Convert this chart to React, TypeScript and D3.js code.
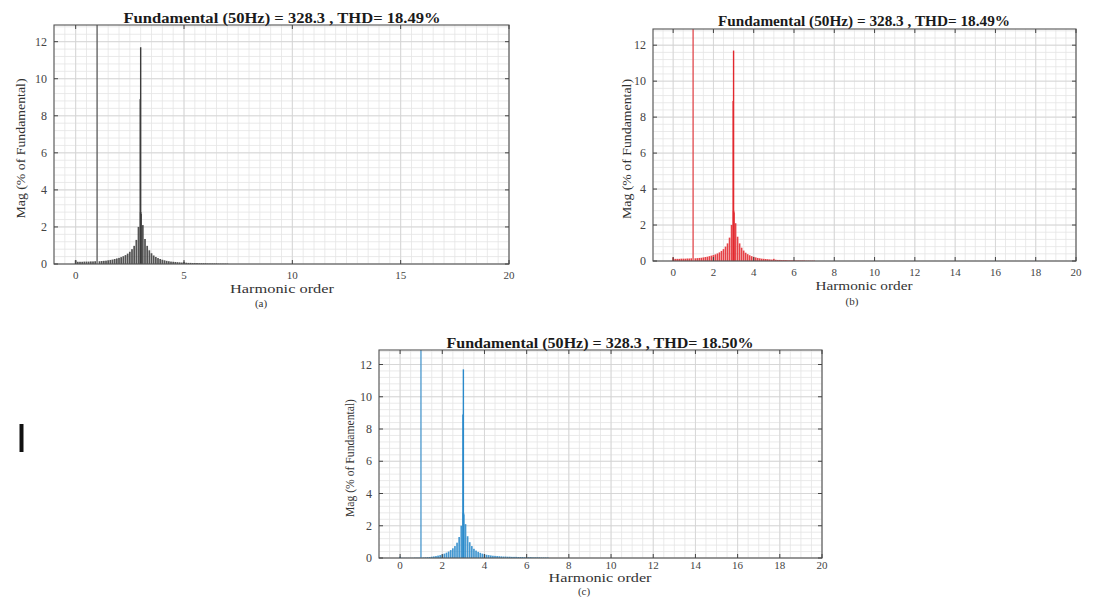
import React, { useEffect, useRef } from "react";
import * as d3 from "d3";

// FFT bins (harmonic order) and magnitudes in % of fundamental
const harmonicOrder = [
  0.0, 0.1, 0.2, 0.3, 0.4, 0.5, 0.6, 0.7, 0.8, 0.9,
  1.0, 1.1, 1.2, 1.3, 1.4, 1.5, 1.6, 1.7, 1.8, 1.9,
  2.0, 2.1, 2.2, 2.3, 2.4, 2.5, 2.6, 2.7, 2.8, 2.9,
  3.0, 3.1, 3.2, 3.3, 3.4, 3.5, 3.6, 3.7, 3.8, 3.9,
  4.0, 4.1, 4.2, 4.3, 4.4, 4.5, 4.6, 4.7, 4.8, 4.9,
  5.0, 5.1, 5.2, 5.3, 5.4, 5.5, 5.6, 5.7, 5.8, 5.9,
  6.0, 6.1, 6.2, 6.3, 6.4, 6.5, 6.6, 6.7, 6.8, 6.9,
  7.0,
];

// panels (a) and (b): same signal, THD = 18.49%
const magAB = [
  0.20, 0.12, 0.12, 0.12, 0.13, 0.13, 0.13, 0.14, 0.14, 0.15,
  100, 0.15, 0.16, 0.17, 0.18, 0.20, 0.22, 0.24, 0.27, 0.30,
  0.33, 0.37, 0.42, 0.48, 0.56, 0.66, 0.80, 0.98, 1.3, 2.0,
  2.8, 2.1, 1.35, 0.98, 0.74, 0.58, 0.46, 0.38, 0.32, 0.27,
  0.23, 0.20, 0.17, 0.15, 0.13, 0.12, 0.11, 0.10, 0.09, 0.08,
  0.12, 0.07, 0.06, 0.06, 0.05, 0.05, 0.05, 0.04, 0.04, 0.04,
  0.04, 0.03, 0.03, 0.03, 0.03, 0.03, 0.02, 0.02, 0.02, 0.02,
  0.02,
];

// panel (c): THD = 18.50%
const magC = [
  0.08, 0.01, 0.01, 0.01, 0.01, 0.01, 0.01, 0.02, 0.02, 0.02,
  100, 0.03, 0.04, 0.05, 0.06, 0.08, 0.10, 0.12, 0.15, 0.18,
  0.22, 0.27, 0.33, 0.40, 0.49, 0.60, 0.74, 0.95, 1.3, 2.0,
  2.8, 2.1, 1.35, 0.98, 0.74, 0.57, 0.46, 0.38, 0.32, 0.27,
  0.23, 0.20, 0.18, 0.16, 0.14, 0.13, 0.12, 0.11, 0.10, 0.09,
  0.09, 0.08, 0.08, 0.07, 0.07, 0.07, 0.06, 0.06, 0.06, 0.05,
  0.05, 0.05, 0.05, 0.04, 0.04, 0.04, 0.04, 0.03, 0.03, 0.03,
  0.03,
];

// fine bins right at the 3rd harmonic
const peakOrder = [2.98, 3.0, 3.02];
const peakMagAB = [8.9, 11.7, 2.7];
const peakMagC = [8.9, 11.7, 2.7];

const yTicks = [0, 2, 4, 6, 8, 10, 12];
const xTicksA = [0, 5, 10, 15, 20];
const xTicksBC = [0, 2, 4, 6, 8, 10, 12, 14, 16, 18, 20];

const panels = [
  {
    id: "a", left: 54, right: 509, top: 25, bottom: 264,
    color: "#3c3c3c", xTicks: xTicksA, mags: magAB, peak: peakMagAB,
    title: "Fundamental (50Hz) = 328.3 , THD= 18.49%",
    titleX: 282, titleY: 23, titleLen: 317,
    xlabY: 293, xlabSize: 13, xlabLen: 104, tickLabY: 279,
    ylabX: 25, ylabLen: 140, caption: "(a)", capX: 261, capY: 307,
  },
  {
    id: "b", left: 653, right: 1076, top: 29, bottom: 261,
    color: "#e2282e", xTicks: xTicksBC, mags: magAB, peak: peakMagAB,
    title: "Fundamental (50Hz) = 328.3 , THD= 18.49%",
    titleX: 864, titleY: 26, titleLen: 292,
    xlabY: 290, xlabSize: 13, xlabLen: 97, tickLabY: 276,
    ylabX: 631, ylabLen: 140, caption: "(b)", capX: 852, capY: 305,
  },
  {
    id: "c", left: 379, right: 822, top: 350, bottom: 558,
    color: "#2a8acb", xTicks: xTicksBC, mags: magC, peak: peakMagC,
    title: "Fundamental (50Hz) = 328.3 , THD= 18.50%",
    titleX: 600, titleY: 348, titleLen: 307,
    xlabY: 582, xlabSize: 12, xlabLen: 103, tickLabY: 569,
    ylabX: 354, ylabLen: 118, caption: "(c)", capX: 584, capY: 595,
  },
];

const font = "'Liberation Serif', 'Times New Roman', serif";

function drawPanel(root, p) {
  const g = root.append("g");
  const x = d3.scaleLinear().domain([-1, 20]).range([p.left, p.right]);
  const y = d3.scaleLinear().domain([0, 12.9]).range([p.bottom, p.top]);

  g.append("clipPath").attr("id", `clip-${p.id}`)
    .append("rect")
    .attr("x", p.left).attr("y", p.top)
    .attr("width", p.right - p.left).attr("height", p.bottom - p.top);

  // minor grid
  const xMinor = d3.range(-2, 41).map((i) => i * 0.5);
  const yMinor = d3.range(0, 33).map((i) => i * 0.4).filter((v) => v <= 12.9);
  g.selectAll(".xminor").data(xMinor).enter().append("line")
    .attr("x1", (d) => x(d)).attr("x2", (d) => x(d))
    .attr("y1", p.top).attr("y2", p.bottom)
    .attr("stroke", "#e4e4e4").attr("stroke-width", 0.8);
  g.selectAll(".yminor").data(yMinor).enter().append("line")
    .attr("y1", (d) => y(d)).attr("y2", (d) => y(d))
    .attr("x1", p.left).attr("x2", p.right)
    .attr("stroke", "#e4e4e4").attr("stroke-width", 0.8);
  // major grid
  g.selectAll(".xmajor").data(p.xTicks).enter().append("line")
    .attr("x1", (d) => x(d)).attr("x2", (d) => x(d))
    .attr("y1", p.top).attr("y2", p.bottom)
    .attr("stroke", "#d2d2d2").attr("stroke-width", 0.8);
  g.selectAll(".ymajor").data(yTicks).enter().append("line")
    .attr("y1", (d) => y(d)).attr("y2", (d) => y(d))
    .attr("x1", p.left).attr("x2", p.right)
    .attr("stroke", "#d2d2d2").attr("stroke-width", 0.8);

  // spectrum bars
  const bars = g.append("g").attr("clip-path", `url(#clip-${p.id})`);
  const bw = x(0.08) - x(0);
  const rows = harmonicOrder.map((h, i) => ({ h, m: p.mags[i] }));
  bars.selectAll(".bar").data(rows).enter().append("rect")
    .attr("x", (d) => x(d.h) - bw / 2)
    .attr("y", (d) => y(d.m))
    .attr("width", (d) => (d.m > 50 ? 1.2 : bw))
    .attr("height", (d) => y(0) - y(d.m))
    .attr("fill", p.color)
    .attr("opacity", 0.88);
  const peakRows = peakOrder.map((h, i) => ({ h, m: p.peak[i] }));
  bars.selectAll(".peak").data(peakRows).enter().append("rect")
    .attr("x", (d) => x(d.h) - 0.7)
    .attr("y", (d) => y(d.m))
    .attr("width", 1.4)
    .attr("height", (d) => y(0) - y(d.m))
    .attr("fill", p.color);

  // box
  g.append("rect")
    .attr("x", p.left).attr("y", p.top)
    .attr("width", p.right - p.left).attr("height", p.bottom - p.top)
    .attr("fill", "none").attr("stroke", "#555").attr("stroke-width", 1.1);

  // inner ticks on all four sides
  const tl = 4;
  p.xTicks.forEach((t) => {
    g.append("line").attr("x1", x(t)).attr("x2", x(t))
      .attr("y1", p.bottom).attr("y2", p.bottom - tl).attr("stroke", "#444");
    g.append("line").attr("x1", x(t)).attr("x2", x(t))
      .attr("y1", p.top).attr("y2", p.top + tl).attr("stroke", "#444");
  });
  yTicks.forEach((t) => {
    g.append("line").attr("y1", y(t)).attr("y2", y(t))
      .attr("x1", p.left).attr("x2", p.left + tl).attr("stroke", "#444");
    g.append("line").attr("y1", y(t)).attr("y2", y(t))
      .attr("x1", p.right).attr("x2", p.right - tl).attr("stroke", "#444");
  });

  // tick labels
  g.selectAll(".xlab").data(p.xTicks).enter().append("text")
    .attr("x", (d) => x(d)).attr("y", p.tickLabY)
    .attr("text-anchor", "middle")
    .attr("font-family", font).attr("font-size", 11).attr("fill", "#444")
    .text((d) => d);
  g.selectAll(".ylab").data(yTicks).enter().append("text")
    .attr("x", p.left - 7).attr("y", (d) => y(d) + 4)
    .attr("text-anchor", "end")
    .attr("font-family", font).attr("font-size", 12).attr("fill", "#444")
    .text((d) => d);

  // title
  g.append("text")
    .attr("x", p.titleX).attr("y", p.titleY)
    .attr("text-anchor", "middle")
    .attr("font-family", font).attr("font-size", 14).attr("font-weight", "bold")
    .attr("fill", "#1a1a1a")
    .attr("textLength", p.titleLen).attr("lengthAdjust", "spacingAndGlyphs")
    .text(p.title);

  // axis labels
  g.append("text")
    .attr("x", p.titleX).attr("y", p.xlabY)
    .attr("text-anchor", "middle")
    .attr("font-family", font).attr("font-size", p.xlabSize).attr("fill", "#333")
    .attr("textLength", p.xlabLen).attr("lengthAdjust", "spacingAndGlyphs")
    .text("Harmonic order");
  const cy = (p.top + p.bottom) / 2 + 4;
  g.append("text")
    .attr("transform", `translate(${p.ylabX},${cy}) rotate(-90)`)
    .attr("text-anchor", "middle")
    .attr("font-family", font).attr("font-size", 13).attr("fill", "#333")
    .attr("textLength", p.ylabLen).attr("lengthAdjust", "spacingAndGlyphs")
    .text("Mag (% of Fundamental)");

  g.append("text")
    .attr("x", p.capX).attr("y", p.capY)
    .attr("text-anchor", "middle")
    .attr("font-family", font).attr("font-size", 11).attr("fill", "#333")
    .text(p.caption);
}

export default function App() {
  const svgRef = useRef(null);

  useEffect(() => {
    const svg = d3.select(svgRef.current);
    svg.selectAll("*").remove();
    svg.append("rect").attr("width", 1107).attr("height", 597).attr("fill", "#fff");
    panels.forEach((p) => drawPanel(svg, p));
    // stray mark on the left margin of the scan
    svg.append("line")
      .attr("x1", 21.5).attr("x2", 21.5).attr("y1", 424).attr("y2", 452)
      .attr("stroke", "#111").attr("stroke-width", 4);
  }, []);

  return (
    <svg
      ref={svgRef}
      width={1107}
      height={597}
      style={{ position: "absolute", left: 0, top: 0 }}
    ></svg>
  );
}
